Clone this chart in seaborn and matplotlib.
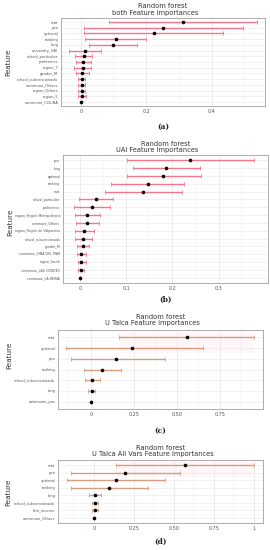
import matplotlib
matplotlib.use("Agg")
import matplotlib.pyplot as plt
import seaborn as sns
import numpy as np
import pandas as pd

# (a) both
feat_a = ["mat", "pen", "optional", "ranking", "lang", "university_UAI",
          "school_particular", "preference", "region_7", "gender_M",
          "school_subvencionado", "commune_Others", "region_Others",
          "region_5", "commune_COLINA"]
imp_a = [0.311, 0.252, 0.223, 0.106, 0.098, 0.012, 0.008, 0.007, 0.005,
         0.004, 0.002, 0.002, 0.002, 0.002, 0.0]
lo_a = [0.085, 0.009, 0.010, 0.012, 0.025, -0.036, -0.018, -0.014, -0.022,
        -0.014, -0.009, -0.008, -0.008, -0.010, 0.0]
hi_a = [0.538, 0.494, 0.435, 0.200, 0.171, 0.061, 0.035, 0.030, 0.030,
        0.023, 0.013, 0.011, 0.012, 0.014, 0.0]

# (b) UAI
feat_b = ["pen", "lang", "optional", "ranking", "mat", "school_particular",
          "preference", "region_Región Metropolitana", "commune_Others",
          "region_Región de Valparaíso", "school_subvencionado", "gender_M",
          "commune_VIÑA DEL MAR", "region_South", "commune_LAS CONDES",
          "commune_LA REINA"]
imp_b = [0.238, 0.186, 0.180, 0.147, 0.137, 0.034, 0.025, 0.016, 0.015,
         0.009, 0.006, 0.006, 0.002, 0.001, 0.001, 0.0]
lo_b = [0.101, 0.114, 0.101, 0.068, 0.055, -0.003, -0.014, -0.010, -0.009,
        -0.012, -0.012, -0.007, -0.006, -0.005, -0.005, 0.0]
hi_b = [0.377, 0.260, 0.261, 0.226, 0.220, 0.071, 0.065, 0.043, 0.040,
        0.031, 0.026, 0.020, 0.012, 0.012, 0.009, 0.0]

# (c) U Talca
feat_c = ["mat", "optional", "pen", "ranking", "school_subvencionado",
          "lang", "admission_pos"]
imp_c = [0.557, 0.238, 0.148, 0.068, 0.006, 0.006, 0.0]
lo_c = [0.163, -0.143, -0.116, -0.040, -0.035, -0.016, 0.0]
hi_c = [0.948, 0.650, 0.430, 0.175, 0.052, 0.027, 0.0]

# (d) U Talca All Vars
feat_d = ["mat", "pen", "optional", "ranking", "lang",
          "school_subvencionado", "fam_income", "commune_Others"]
imp_d = [0.569, 0.196, 0.138, 0.092, 0.009, 0.004, 0.004, 0.0]
lo_d = [0.140, -0.146, -0.170, -0.146, -0.031, -0.013, -0.013, 0.0]
hi_d = [1.000, 0.540, 0.446, 0.338, 0.046, 0.024, 0.022, 0.0]

panels = [
    dict(name="both", feat=feat_a, imp=imp_a, lo=lo_a, hi=hi_a,
         rect=[61, 18, 204, 88], xlim=(-0.061, 0.562),
         ticks=[0, 0.2, 0.4], labels=["0", "0.2", "0.4"], minor=[0.1, 0.3, 0.5],
         color="#f2778d", ysize=2.6, cap="(a)", t1=6, t2=13, ylab=(8, 62), capy=127, band=False),
    dict(name="UAI", feat=feat_b, imp=imp_b, lo=lo_b, hi=hi_b,
         rect=[63, 155, 205, 128], xlim=(-0.037, 0.407),
         ticks=[0, 0.1, 0.2, 0.3], labels=["0", "0.1", "0.2", "0.3"],
         minor=[0.05, 0.15, 0.25, 0.35],
         color="#f2778d", ysize=2.3, cap="(b)", t1=144, t2=150, ylab=(10, 222), capy=300, band=False),
    dict(name="U Talca", feat=feat_c, imp=imp_c, lo=lo_c, hi=hi_c,
         rect=[58, 330, 205, 79], xlim=(-0.19, 1.0),
         ticks=[0, 0.25, 0.5, 0.75], labels=["0", "0.25", "0.50", "0.75"],
         minor=[-0.125, 0.125, 0.375, 0.625, 0.875],
         color="#d69c80", ysize=2.6, cap="(c)", t1=317, t2=323, ylab=(9, 355), capy=431, band=True),
    dict(name="U Talca All Vars", feat=feat_d, imp=imp_d, lo=lo_d, hi=hi_d,
         rect=[58, 460, 205, 63], xlim=(-0.225, 1.056),
         ticks=[0, 0.25, 0.5, 0.75, 1.0], labels=["0", "0.25", "0.50", "0.75", "1"],
         minor=[-0.125, 0.125, 0.375, 0.625, 0.875],
         color="#d69c80", ysize=2.6, cap="(d)", t1=448, t2=454, ylab=(8, 492), capy=542, band=True),
]

W, H = 270, 550
sns.set_style("white")
fig = plt.figure(figsize=(W / 100, H / 100), dpi=100)

for p in panels:
    x0, y0, w, h = p["rect"]
    ax = fig.add_axes([x0 / W, 1 - (y0 + h) / H, w / W, h / H])
    df = pd.DataFrame({"Feature": p["feat"], "imp": p["imp"],
                       "lo": p["lo"], "hi": p["hi"]})
    n = len(df)
    ypos = np.arange(n)

    # grid
    for t in p["ticks"]:
        ax.axvline(t, color="#e3e3e3", lw=0.45, zorder=0)
    for t in p["minor"]:
        ax.axvline(t, color="#f0f0f0", lw=0.3, zorder=0)
    for yy in ypos:
        ax.axhline(yy, color="#e8e8e8", lw=0.4, zorder=0)

    if p["band"]:
        ax.fill_betweenx([-0.5, 1.5], df["lo"][0], df["hi"][0],
                         color="#ffd6df", alpha=0.22, lw=0, zorder=0.5)

    ax.errorbar(df["imp"], ypos,
                xerr=[df["imp"] - df["lo"], df["hi"] - df["imp"]],
                fmt="none", ecolor=p["color"], elinewidth=1.0,
                capsize=1.5, capthick=0.6, zorder=2)
    sns.stripplot(data=df, x="imp", y="Feature", order=p["feat"], jitter=False,
                  color="black", size=2.6, linewidth=0, ax=ax, zorder=3)

    ax.set_xlim(*p["xlim"])
    ax.set_ylim(n - 1 + 0.7, -0.7)
    ax.set_xticks(p["ticks"])
    ax.set_xticklabels(p["labels"], fontsize=3.5, color="#555555")
    ax.tick_params(axis="x", length=1, width=0.3, pad=1.5, colors="#777777",
                   labelcolor="#555555")
    ax.tick_params(axis="y", length=1, width=0.3, pad=1, labelsize=p["ysize"],
                   colors="#777777", labelcolor="#555555")
    ax.set_xlabel("")
    ax.set_ylabel("")
    for s in ax.spines.values():
        s.set_color("#a0a0a0")
        s.set_linewidth(0.6)

    cx = (x0 + w / 2) / W
    fig.text(cx, 1 - p["t1"] / H, "Random forest", ha="center", va="center",
             fontsize=4.8, color="#333333")
    fig.text(cx - 0.03, 1 - p["t2"] / H, p["name"] + " Feature importances",
             ha="center", va="center", fontsize=4.8, color="#333333")
    fig.text(p["ylab"][0] / W, 1 - p["ylab"][1] / H, "Feature", rotation=90,
             ha="center", va="center", fontsize=5.2, color="#333333")
    fig.text(cx, 1 - p["capy"] / H, p["cap"], ha="center", va="center",
             fontsize=5.5, family="DejaVu Serif", fontweight="bold", color="#222222")

fig.savefig("out.png", dpi=100)
